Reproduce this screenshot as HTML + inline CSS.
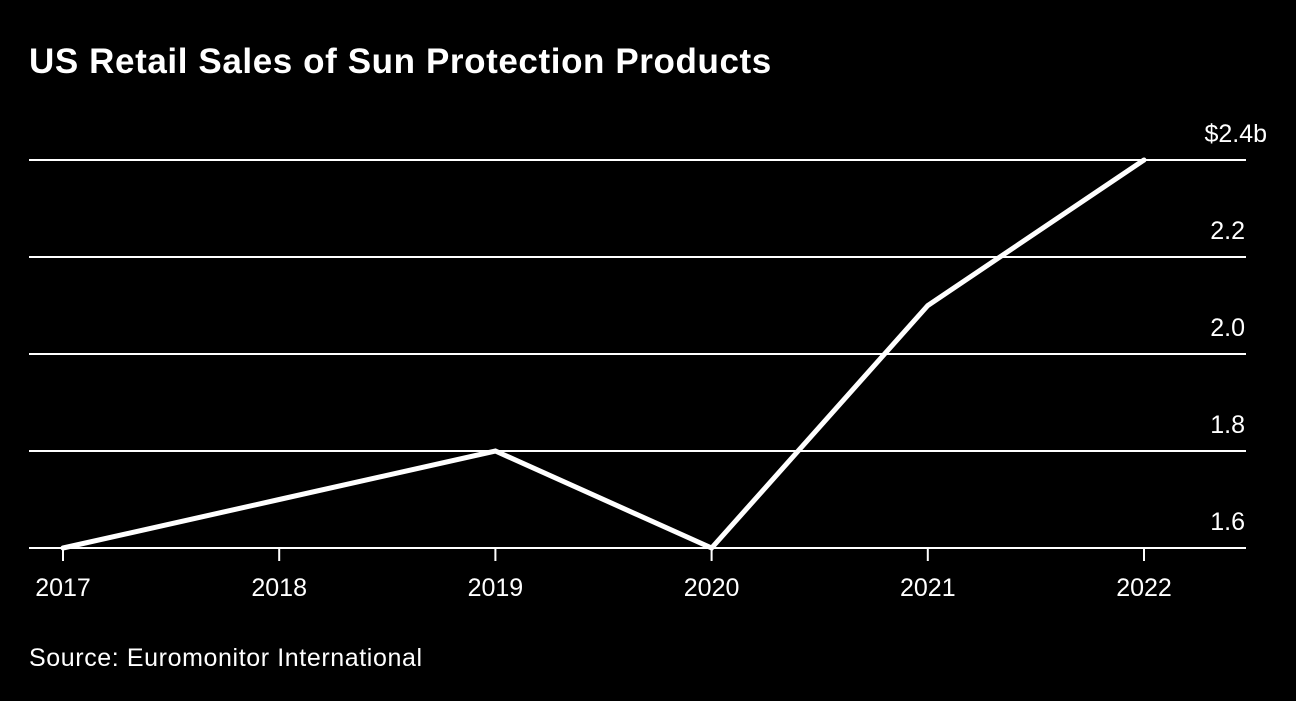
<!DOCTYPE html>
<html><head><meta charset="utf-8"><style>
html,body{margin:0;padding:0;background:#000;}
body{width:1296px;height:696px;overflow:hidden;font-family:"Liberation Sans",sans-serif;color:#fff;}
</style></head><body>
<svg width="1296" height="696" id="c">
<text x="29" y="73" font-size="35" font-weight="bold" fill="#fff" letter-spacing="0.6">US Retail Sales of Sun Protection Products</text>
<text x="29" y="666" font-size="25" fill="#fff" letter-spacing="0.6">Source: Euromonitor International</text>
</svg>
<script>
const years = ["2017","2018","2019","2020","2021","2022"];
const sales = [1.6, 1.7, 1.8, 1.6, 2.1, 2.4];
const yTicks = [1.6, 1.8, 2.0, 2.2, 2.4];
const yTickLabels = ["1.6","1.8","2.0","2.2","$2.4b"];
const svg = document.getElementById('c');
const NS = 'http://www.w3.org/2000/svg';
const x0 = 63, x1 = 1144, yb = 548, yt = 160, vmin = 1.6, vmax = 2.4;
const xs = i => x0 + (x1 - x0) * i / (years.length - 1);
const ys = v => yb - (v - vmin) / (vmax - vmin) * (yb - yt);
function mk(tag, attrs){const e=document.createElementNS(NS,tag);for(const k in attrs)e.setAttribute(k,attrs[k]);svg.appendChild(e);return e;}
yTicks.forEach((v,i)=>{
  const l = mk('line',{x1:29,x2:1246,y1:ys(v),y2:ys(v),stroke:'#fff','stroke-width':2});
  
  
  const last = i===yTicks.length-1;
  const t = mk('text',{x:last?1267:1245,y:ys(v)-18,'font-size':25,fill:'#fff','text-anchor':'end'});
  t.textContent = yTickLabels[i];
  
  
});
years.forEach((y,i)=>{
  const k = mk('line',{x1:xs(i),x2:xs(i),y1:yb,y2:yb+13,stroke:'#fff','stroke-width':2});
  
  
  const t = mk('text',{x:xs(i),y:yb+48,'font-size':25,fill:'#fff','text-anchor':'middle'});
  t.textContent = y;
  
  
});
const p = mk('polyline',{points:sales.map((v,i)=>xs(i)+','+ys(v)).join(' '),fill:'none',stroke:'#fff','stroke-width':5,'stroke-linejoin':'miter','stroke-linecap':'round'});


</script>
</body></html>
